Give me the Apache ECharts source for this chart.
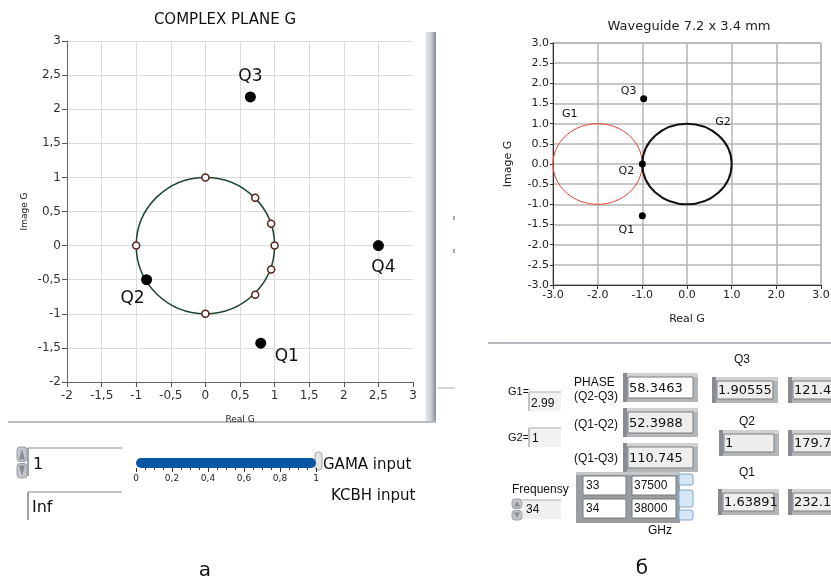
<!DOCTYPE html>
<html>
<head>
<meta charset="utf-8">
<script src="https://cdn.jsdelivr.net/npm/echarts@6/dist/echarts.min.js"></script>
<style>
html, body { margin: 0; padding: 0; background: #fff; }
#chart { width: 831px; height: 579px; }
</style>
</head>
<body>
<div id="chart"></div>
<script>
// ---- left plot: complex plane G ----
var ringX = [0, 0.72, 0.95, 1.0, 0.95, 0.72, 0, -1];
var ringY = [1, 0.7, 0.32, 0, -0.35, -0.72, -1, 0];
var leftQName = ['Q1', 'Q2', 'Q3', 'Q4'];
var leftQX = [0.8, -0.85, 0.65, 2.5];
var leftQY = [-1.43, -0.5, 2.18, 0];
var leftCircle = [[0, 0, 1]];          // centre x, centre y, radius

// ---- right plot: waveguide ----
var rightQName = ['Q1', 'Q2', 'Q3'];
var rightQX = [-1, -1, -0.97];
var rightQY = [-1.28, 0, 1.62];
var rightCircles = [[-2, 0, 1], [0, 0, 1]];
var rightCircleName = ['G1', 'G2'];

// ---- controls ----
var gamaValue = 1;
var phaseLabels = ['(Q2-Q3)', '(Q1-Q2)', '(Q1-Q3)'];
var phaseValues = ['58.3463', '52.3988', '110.745'];
var qMagnitude = ['1.90555', '1', '1.63891'];
var qAngle = ['121.43', '179.77', '232.1'];
var freqTable = [['33', '37500'], ['34', '38000']];

var comma = function (v) { return String(v).replace('.', ','); };
var FONT = 'DejaVu Sans';
var UI = 'Liberation Sans';

// label offsets (pixels) for the Q markers
var leftOffsets = [[26, 13], [-14, 19], [0, -20], [5, 22]];
var rightOffsets = [[-16, 15], [-16, 7], [-15, -8]];
var circleStyle = [
    { stroke: '#e8442e', lineWidth: 1, label: [-28, -50] },
    { stroke: '#111', lineWidth: 2, label: [36, -42] }
];

function circleSeries(xi, data, styleFn, labels) {
    return {
        type: 'custom',
        xAxisIndex: xi, yAxisIndex: xi,
        data: data,
        silent: true,
        renderItem: function (params, api) {
            var c = api.coord([api.value(0), api.value(1)]);
            var s = api.size([api.value(2), api.value(2)]);
            var st = styleFn(params.dataIndex);
            var children = [{
                type: 'ellipse',
                shape: { cx: c[0], cy: c[1], rx: s[0], ry: s[1] },
                style: { fill: 'none', stroke: st.stroke, lineWidth: st.lineWidth }
            }];
            if (labels) {
                children.push({
                    type: 'text',
                    x: c[0] + st.label[0], y: c[1] + st.label[1],
                    style: { text: labels[params.dataIndex], font: '11px ' + FONT, fill: '#111', align: 'center', verticalAlign: 'middle' }
                });
            }
            return { type: 'group', children: children };
        }
    };
}

var leftQData = leftQName.map(function (n, i) {
    return {
        name: n, value: [leftQX[i], leftQY[i]],
        label: { show: true, formatter: n, position: 'inside', offset: leftOffsets[i], fontSize: 17, fontFamily: FONT, color: '#111' }
    };
});
var rightQData = rightQName.map(function (n, i) {
    return {
        name: n, value: [rightQX[i], rightQY[i]],
        label: { show: true, formatter: n, position: 'inside', offset: rightOffsets[i], fontSize: 11, fontFamily: FONT, color: '#111' }
    };
});
var ringData = ringX.map(function (x, i) { return [x, ringY[i]]; });

// ---- graphic helpers (widgets) ----
function txt(x, y, s, size, opt) {
    opt = opt || {};
    return {
        type: 'text', x: x, y: y,
        style: { text: s, font: (size || 12) + 'px ' + (opt.font || UI), fill: opt.fill || '#111', align: opt.align || 'left', verticalAlign: 'middle' }
    };
}
function rect(x, y, w, h, fill, stroke, r) {
    return { type: 'rect', shape: { x: x, y: y, width: w, height: h, r: r || 0 }, style: { fill: fill, stroke: stroke || null, lineWidth: 1 } };
}
function line(x1, y1, x2, y2, color, w) {
    return { type: 'line', shape: { x1: x1, y1: y1, x2: x2, y2: y2 }, style: { stroke: color, lineWidth: w || 1 } };
}
function indicator(x, y, w, h, s, fill) {
    return [
        rect(x, y, w, h, '#b3b6b9'),
        rect(x, y, w, 4, '#cfd1d3'),
        rect(x, y, 4, h, '#888c90'),
        rect(x + 5, y + 4, w - 10, h - 8, fill, '#7a7d80'),
        txt(x + 6, y + h / 2 + 1, s, 13, { font: FONT })
    ];
}
function spinner(x, y, h) {
    var hh = h / 2 - 1;
    return [
        rect(x, y, 10, hh, '#c3c7cb', '#9a9ea2', 3),
        rect(x, y + hh + 2, 10, hh, '#c3c7cb', '#9a9ea2', 3),
        { type: 'polygon', shape: { points: [[x + 2, y + hh - 2], [x + 8, y + hh - 2], [x + 5, y + 2]] }, style: { fill: '#8a8e92' } },
        { type: 'polygon', shape: { points: [[x + 2, y + hh + 4], [x + 8, y + hh + 4], [x + 5, y + h - 2]] }, style: { fill: '#8a8e92' } }
    ];
}

var g = [];
// left panel frame
g.push({ type: 'rect', shape: { x: 425, y: 32, width: 11, height: 390 },
    style: { fill: new echarts.graphic.LinearGradient(0, 0, 1, 0, [{ offset: 0, color: '#eceef0' }, { offset: 0.6, color: '#c4c8cc' }, { offset: 1, color: '#868b90' }]) } });
g.push(line(8, 422, 436, 422, '#b9bdc1', 2));
g.push(line(454, 216, 454, 220, '#555', 1), line(454, 249, 454, 253, '#555', 1), line(438, 388, 455, 388, '#aaa', 1));
// right panel frame
g.push(line(488, 343, 831, 343, '#b4b8bc', 2));

// left controls
g = g.concat(spinner(17, 447, 31));
g.push(line(28, 448, 122, 448, '#c2c5c8', 2), line(28, 448, 28, 476, '#9ea2a6', 2));
g.push(txt(33, 465, '1', 16, { font: FONT }));
g.push(line(28, 492, 122, 492, '#c2c5c8', 2), line(28, 492, 28, 520, '#9ea2a6', 2));
g.push(txt(32, 508, 'Inf', 16, { font: FONT }));
g.push(rect(315, 452, 7, 18, '#e4e6e8', '#a4a8ac', 3));
g.push(txt(323, 465, 'GAMA input', 15, { font: FONT }), txt(331, 496, 'KCBH input', 15, { font: FONT }));
g.push(txt(205, 571, 'а', 20, { align: 'center', font: FONT }));

// right controls
g.push(txt(742, 360, 'Q3', 12, { align: 'center' }));
g.push(txt(574, 383, 'PHASE', 12), txt(574, 397, phaseLabels[0], 12));
g.push(txt(574, 425, phaseLabels[1], 12), txt(574, 459, phaseLabels[2], 12));
g = g.concat(indicator(623, 373, 75, 29, phaseValues[0], '#ffffff'));
g = g.concat(indicator(623, 408, 75, 29, phaseValues[1], '#eeeeee'));
g = g.concat(indicator(623, 443, 75, 29, phaseValues[2], '#eeeeee'));
g = g.concat(indicator(712, 377, 66, 26, qMagnitude[0], '#eeeeee'));
g = g.concat(indicator(788, 377, 60, 26, qAngle[0], '#eeeeee'));
g.push(txt(747, 422, 'Q2', 12, { align: 'center' }));
g = g.concat(indicator(719, 430, 60, 26, qMagnitude[1], '#eeeeee'));
g = g.concat(indicator(788, 430, 60, 26, qAngle[1], '#eeeeee'));
g.push(txt(747, 473, 'Q1', 12, { align: 'center' }));
g = g.concat(indicator(718, 489, 61, 26, qMagnitude[2], '#eeeeee'));
g = g.concat(indicator(788, 489, 60, 26, qAngle[2], '#eeeeee'));

g.push(txt(508, 392, 'G1=', 11));
g.push(rect(529, 392, 32, 19, '#f2f2f2'), line(529, 392, 561, 392, '#d0d2d4', 2), line(529, 392, 529, 411, '#c0c3c6', 2));
g.push(txt(531, 404, '2.99', 12));
g.push(txt(508, 438, 'G2=', 11));
g.push(rect(529, 428, 32, 19, '#f2f2f2'), line(529, 428, 561, 428, '#d0d2d4', 2), line(529, 428, 529, 447, '#c0c3c6', 2));
g.push(txt(532, 439, '1', 12));

g.push(txt(512, 490, 'Frequensy', 12));
g = g.concat(spinner(512, 499, 21));
g.push(rect(523, 500, 38, 19, '#f0f0f0'), line(523, 500, 561, 500, '#d0d2d4', 2));
g.push(txt(526, 510, '34', 12));

g.push(rect(576, 472, 104, 51, '#9a9ea2'), rect(576, 472, 104, 3, '#c5c8cb'));
freqTable.forEach(function (row, r) {
    var y = 476 + r * 23;
    g.push(rect(583, y, 43, 19, '#fff', '#777a7e'), txt(586, y + 10, row[0], 12));
    g.push(rect(632, y, 44, 19, '#fff', '#777a7e'), txt(634, y + 10, row[1], 12));
});
g.push(rect(679, 474, 14, 11, '#d6e7f6', '#7ea8d0', 2), rect(679, 490, 14, 17, '#d6e7f6', '#7ea8d0', 2), rect(679, 510, 14, 10, '#d6e7f6', '#7ea8d0', 2));
g.push(txt(660, 531, 'GHz', 12, { align: 'center' }));
g.push(txt(642, 569, 'б', 20, { align: 'center', font: FONT }));

var option = {
    backgroundColor: '#fff',
    animation: false,
    title: [
        { text: 'COMPLEX PLANE G', left: 220, top: 8, textAlign: 'center', textStyle: { fontFamily: FONT, fontSize: 15, fontWeight: 'normal', color: '#111' } },
        { text: 'Waveguide 7.2 x 3.4 mm', left: 684, top: 15, textAlign: 'center', textStyle: { fontFamily: FONT, fontSize: 13, fontWeight: 'normal', color: '#222' } }
    ],
    grid: [
        { left: 67, top: 41, width: 346, height: 341, outerBoundsMode: 'none' },
        { left: 553, top: 43, width: 268, height: 242, outerBoundsMode: 'none', show: true, borderColor: '#a0a0a0', borderWidth: 1 },
        { left: 136, top: 458, width: 180, height: 10, outerBoundsMode: 'none' }
    ],
    xAxis: [
        {
            gridIndex: 0, type: 'value', min: -2, max: 3, interval: 0.5,
            name: 'Real G', nameLocation: 'middle', nameGap: 33,
            nameTextStyle: { fontFamily: FONT, fontSize: 9, color: '#222' },
            axisLine: { onZero: false, lineStyle: { color: '#666' } },
            axisTick: { show: true, length: 5, lineStyle: { color: '#555' } },
            axisLabel: { formatter: comma, fontFamily: FONT, fontSize: 12, color: '#333', margin: 8 },
            splitLine: { show: true, showMaxLine: false, lineStyle: { color: '#dcdcdc' } }
        },
        {
            gridIndex: 1, type: 'value', min: -3, max: 3, interval: 1,
            name: 'Real G', nameLocation: 'middle', nameGap: 29,
            nameTextStyle: { fontFamily: FONT, fontSize: 11, color: '#222' },
            axisLine: { onZero: false, lineStyle: { color: '#333' } },
            axisTick: { show: true, length: 4, lineStyle: { color: '#333' } },
            axisLabel: { formatter: function (v) { return v.toFixed(1); }, fontFamily: FONT, fontSize: 11, color: '#222', margin: 5 },
            splitLine: { show: true, lineStyle: { color: '#b4b4b4', width: 1.5 } }
        },
        {
            gridIndex: 2, type: 'value', min: 0, max: 1, interval: 0.2,
            axisLine: { show: false },
            axisTick: { show: true, length: 4, lineStyle: { color: '#333' } },
            minorTick: { show: true, splitNumber: 4, length: 2, lineStyle: { color: '#333' } },
            axisLabel: { formatter: comma, fontFamily: FONT, fontSize: 9, color: '#222', margin: 6 },
            splitLine: { show: false }
        }
    ],
    yAxis: [
        {
            gridIndex: 0, type: 'value', min: -2, max: 3, interval: 0.5,
            name: 'Image G', nameLocation: 'middle', nameGap: 38,
            nameTextStyle: { fontFamily: FONT, fontSize: 9, color: '#222' },
            axisLine: { show: true, onZero: false, lineStyle: { color: '#666' } },
            axisTick: { show: true, length: 5, lineStyle: { color: '#555' } },
            axisLabel: { formatter: comma, fontFamily: FONT, fontSize: 12, color: '#333', margin: 6 },
            splitLine: { show: true, lineStyle: { color: '#dcdcdc' } }
        },
        {
            gridIndex: 1, type: 'value', min: -3, max: 3, interval: 0.5,
            name: 'Image G', nameLocation: 'middle', nameGap: 39,
            nameTextStyle: { fontFamily: FONT, fontSize: 11, color: '#222' },
            axisLine: { show: true, onZero: false, lineStyle: { color: '#333' } },
            axisTick: { show: true, length: 3, lineStyle: { color: '#333' } },
            axisLabel: { formatter: function (v) { return v.toFixed(1); }, fontFamily: FONT, fontSize: 11, color: '#222', margin: 4 },
            splitLine: { show: true, lineStyle: { color: '#b4b4b4', width: 1.5 } }
        },
        {
            gridIndex: 2, type: 'category', data: ['GAMA'], show: false
        }
    ],
    series: [
        circleSeries(0, leftCircle, function () { return { stroke: '#1d4536', lineWidth: 1.5 }; }),
        {
            type: 'scatter', xAxisIndex: 0, yAxisIndex: 0, data: ringData,
            symbol: 'circle', symbolSize: 7,
            itemStyle: { color: '#fff', borderColor: '#5a2020', borderWidth: 1.5, opacity: 1 }
        },
        {
            type: 'scatter', xAxisIndex: 0, yAxisIndex: 0, data: leftQData,
            symbol: 'circle', symbolSize: 11, itemStyle: { color: '#000', opacity: 1 }
        },
        circleSeries(1, rightCircles, function (i) { return circleStyle[i]; }, rightCircleName),
        {
            type: 'scatter', xAxisIndex: 1, yAxisIndex: 1, data: rightQData,
            symbol: 'circle', symbolSize: 7, itemStyle: { color: '#000', opacity: 1 }
        },
        {
            type: 'bar', xAxisIndex: 2, yAxisIndex: 2, data: [gamaValue],
            barWidth: 10, itemStyle: { color: '#0b55a6', borderRadius: 5 }
        }
    ],
    graphic: g
};

var chart = echarts.init(document.getElementById('chart'));
chart.setOption(option);
</script>
</body>
</html>
